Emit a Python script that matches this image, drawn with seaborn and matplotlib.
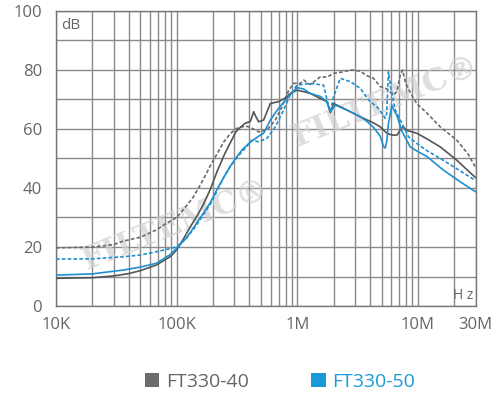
import numpy as np
import pandas as pd
import matplotlib
matplotlib.use("Agg")
import matplotlib.pyplot as plt
from matplotlib.patches import Patch
from matplotlib.ticker import FixedLocator, NullFormatter
import seaborn as sns

# Frequenze in MHz, livelli in dB
f_gray_solid = [0.01, 0.02, 0.03, 0.04, 0.05, 0.068, 0.089, 0.1, 0.113, 0.13, 0.15, 0.167,
                0.19, 0.216, 0.25, 0.28, 0.31, 0.337, 0.37, 0.408, 0.435, 0.449, 0.478, 0.526,
                0.598, 0.70, 0.80, 0.875, 0.995, 1.13, 1.28, 1.55, 1.76, 1.88, 2.0, 2.27,
                2.75, 3.33, 4.29, 4.87, 5.53, 6.09, 6.7, 7.13, 7.5, 8.11, 9.82, 12, 15.3,
                21, 25, 30]
db_gray_solid = [9.4, 9.6, 10.2, 11.0, 12.0, 13.9, 16.8, 19.0, 22.5, 26.9, 31.0, 34.5,
                 39.5, 45.5, 51.5, 55.5, 59.0, 60.5, 61.9, 62.5, 65.8, 64.5, 62.4, 63.0,
                 68.6, 69.2, 70.5, 72.0, 73.1, 72.6, 72.0, 70.3, 69.2, 65.5, 68.6, 67.5,
                 65.8, 64.1, 62.0, 60.7, 58.5, 57.9, 57.9, 59.6, 60.7, 59.5, 58.5, 56.5, 53.9,
                 49.4, 46.5, 43.5]

f_gray_dash = [0.01, 0.02, 0.03, 0.036, 0.05, 0.068, 0.082, 0.1, 0.113, 0.138, 0.167, 0.19,
               0.216, 0.245, 0.28, 0.316, 0.37, 0.408, 0.478, 0.561, 0.658, 0.747, 0.848,
               0.931, 1.06, 1.13, 1.28, 1.55, 1.76, 2.0, 2.4, 2.75, 2.93, 3.33, 3.78, 4.29,
               4.87, 5.53, 6.24, 6.7, 7.13, 7.46, 7.85, 8.11, 9.0, 9.82, 11.9, 15.3, 21, 26, 30]
db_gray_dash = [19.7, 20.0, 20.8, 22.0, 23.3, 25.8, 28.0, 30.0, 32.5, 37.0, 43.0, 47.5,
                51.5, 55.5, 58.5, 60.2, 61.0, 60.5, 59.0, 59.6, 63.0, 67.5, 73.0,
                75.4, 75.4, 76.5, 75.0, 77.6, 77.5, 78.8, 79.3, 79.9, 79.9, 79.5, 78.0, 77.1,
                74.3, 73.5, 71.5, 72.6, 78.2, 79.9, 76.0, 74.5, 71.0, 68.5, 65.3, 60.7, 56.2, 51.5, 47.0]

f_blue_solid = [0.01, 0.02, 0.036, 0.05, 0.068, 0.089, 0.1, 0.12, 0.138, 0.167, 0.19, 0.216,
                0.245, 0.28, 0.316, 0.35, 0.408, 0.478, 0.526, 0.598, 0.70, 0.848, 0.995,
                1.13, 1.28, 1.55, 1.76, 1.88, 2.07, 2.58, 3.33, 3.78, 4.29, 4.87, 5.19, 5.36,
                5.53, 5.7, 6.09, 6.3, 6.7, 7.4, 8.63, 9.82, 11.9, 16.3, 22.4, 30]
db_blue_solid = [10.5, 10.9, 12.2, 13.2, 14.5, 17.5, 19.6, 23.0, 26.5, 31.5, 35.0, 39.5,
                 43.5, 47.5, 50.6, 53.0, 55.5, 57.5, 58.5, 63.0, 67.0, 71.0, 74.0,
                 73.5, 72.0, 71.0, 69.2, 65.8, 68.0, 66.4, 64.1, 62.5, 60.5, 57.5, 54.0, 53.5,
                 56.0, 62.0, 68.0, 66.5, 64.5, 59.0, 53.9, 52.5, 50.6, 46.0, 42.1, 38.7]

f_blue_dash = [0.01, 0.02, 0.036, 0.05, 0.068, 0.089, 0.1, 0.12, 0.138, 0.167, 0.19, 0.216,
               0.245, 0.28, 0.316, 0.37, 0.421, 0.478, 0.561, 0.658, 0.77, 0.875, 0.995,
               1.28, 1.65, 1.76, 1.88, 2.0, 2.27, 2.75, 3.33, 3.9, 4.72, 5.36, 5.5, 5.7,
               5.95, 6.48, 7.36, 8.36, 9.82, 12, 15.3, 21, 30]
db_blue_dash = [15.9, 16.0, 16.7, 17.3, 18.4, 19.5, 20.1, 22.9, 26.0, 31.0, 34.5, 39.0,
                43.5, 47.5, 50.3, 53.5, 56.2, 55.6, 56.8, 60.7, 66.4, 71.5, 74.8,
                75.4, 74.8, 70.0, 65.8, 70.9, 77.1, 76.0, 73.7, 69.8, 66.9, 63.6, 65.0, 79.3,
                74.0, 66.4, 61.9, 57.3, 55.0, 52.5, 50.0, 46.5, 42.5]

x_ticks = [1e4, 1e5, 1e6, 1e7, 3e7]
x_labels = ["10K", "100K", "1M", "10M", "30M"]
y_ticks = [0, 20, 40, 60, 80, 100]

GRAY = "#6b6b6b"
BLUE = "#1f8fd0"
TEXT = "#666666"

sns.set_theme(style="white")
plt.rcParams["font.family"] = ["Open Sans", "DejaVu Sans"]

fig = plt.figure(figsize=(5.0, 3.97), dpi=100)
ax = fig.add_axes([0.112, 0.229, 0.839, 0.744])

series = [
    (f_gray_dash, db_gray_dash, GRAY, (0, (2.2, 1.3))),
    (f_gray_solid, db_gray_solid, "#555555", "-"),
    (f_blue_dash, db_blue_dash, BLUE, (0, (2.2, 1.3))),
    (f_blue_solid, db_blue_solid, BLUE, "-"),
]
for f, db, col, ls in series:
    df = pd.DataFrame({"freq": np.array(f) * 1e6, "db": db})
    sns.lineplot(data=df, x="freq", y="db", ax=ax, color=col, linewidth=1.2,
                 linestyle=ls, sort=False, zorder=3)

ax.set_xscale("log")
ax.set_xlim(1e4, 3e7)
ax.set_ylim(0, 100)

# griglia: decadi + 2..9, piu 20M
minor = [m * 10 ** d for d in range(4, 7) for m in range(2, 10)] + [2e7]
ax.xaxis.set_minor_locator(FixedLocator(minor))
ax.xaxis.set_minor_formatter(NullFormatter())
ax.set_xticks(x_ticks)
ax.set_xticklabels(x_labels)
ax.set_yticks(np.arange(0, 101, 10), minor=True)
ax.set_yticks(y_ticks)
ax.grid(True, which="both", color="#8a8a8a", linewidth=1.0, zorder=1)
ax.set_axisbelow(True)
ax.tick_params(which="both", length=0)
ax.tick_params(axis="x", pad=8, labelsize=12, labelcolor=TEXT)
ax.tick_params(axis="y", pad=10, labelsize=12, labelcolor=TEXT)
ax.set_xlabel("")
ax.set_ylabel("")
for s in ax.spines.values():
    s.set_color("#777777")
    s.set_linewidth(1.0)

ax.text(0.012, 0.975, "dB", transform=ax.transAxes, ha="left", va="top",
        fontsize=11, color=TEXT)
ax.text(0.995, 0.01, "H z", transform=ax.transAxes, ha="right", va="bottom",
        fontsize=10, color=TEXT)

# filigrana
for xp, yp in [(0.285, 0.275), (0.785, 0.69)]:
    ax.text(xp, yp, "FILTEMC®", transform=ax.transAxes, ha="center", va="center",
            fontsize=23, fontweight="bold", family="DejaVu Serif", color="#d0d0d0",
            alpha=0.7, rotation=22, zorder=2)

handles = [Patch(facecolor=GRAY, edgecolor="none"), Patch(facecolor="#1a9ad6", edgecolor="none")]
fig.legend(handles, ["FT330-40", "FT330-50"], loc="center", bbox_to_anchor=(0.56, 0.038),
           ncol=2, frameon=False, fontsize=14, handlelength=0.75, handleheight=0.75,
           handletextpad=0.35, columnspacing=3.2, labelcolor=[TEXT, "#1a9ad6"])

fig.savefig("out.png", dpi=100)
